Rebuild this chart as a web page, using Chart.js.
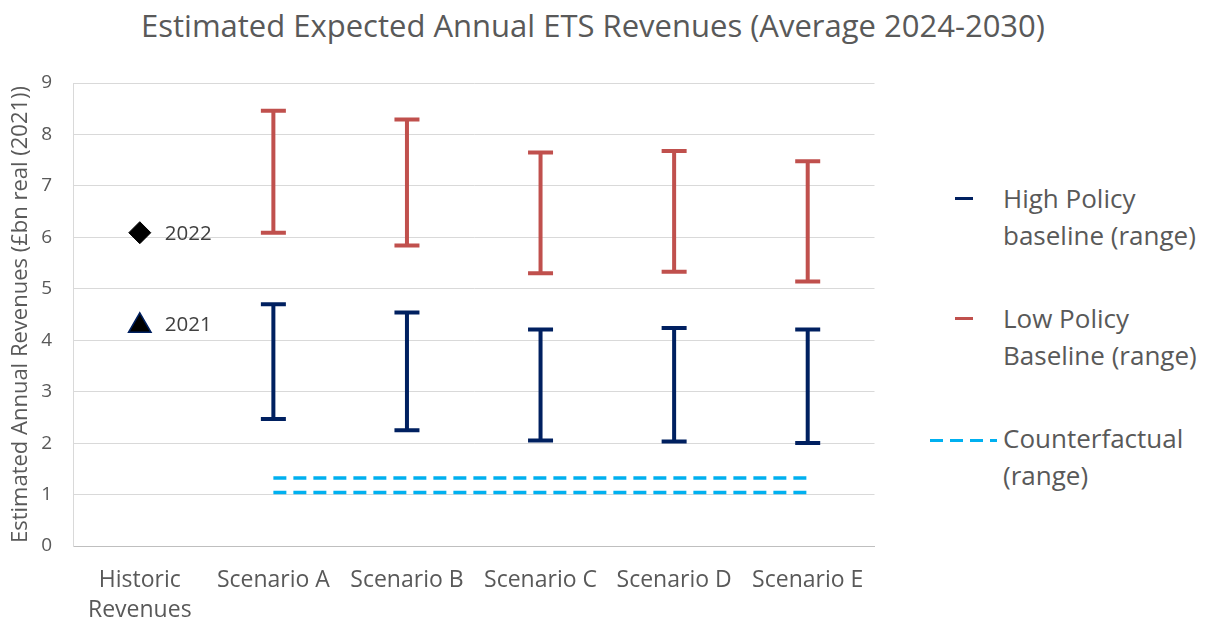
<!DOCTYPE html>
<html>
<head>
<meta charset="utf-8">
<title>Estimated Expected Annual ETS Revenues</title>
<script src="https://cdn.jsdelivr.net/npm/chart.js@4/dist/chart.umd.min.js"></script>
<style>
  body { margin: 0; background: #fff; font-family: 'Open Sans', sans-serif; }
  #wrap { position: relative; width: 1208px; height: 623px; background: #fff; overflow: hidden; }
  #title { position: absolute; left: 0; top: 10px; width: 1186px; text-align: center;
           font-size: 31px; line-height: 30px; color: #595959; white-space: nowrap; }
  #plot { position: absolute; left: 0; top: 0; width: 889px; height: 623px; }
  .leg-text { position: absolute; left: 1003px; font-size: 26px; line-height: 37px; color: #595959; white-space: nowrap; }
  .leg-mark { position: absolute; height: 3px; }
</style>
</head>
<body>
<div id="wrap">
  <div id="title">Estimated Expected Annual ETS Revenues (Average 2024-2030)</div>
  <div id="plot"><canvas id="myChart"></canvas></div>

  <div class="leg-mark" style="left:955px; top:197px; width:18px; background:#002060;"></div>
  <div class="leg-text" style="top:180px;">High Policy<br>baseline (range)</div>

  <div class="leg-mark" style="left:955px; top:317px; width:18px; background:#C0504D;"></div>
  <div class="leg-text" style="top:300px;">Low Policy<br>Baseline (range)</div>

  <div class="leg-mark" style="left:930px; top:439px; width:67px;
       background:repeating-linear-gradient(to right, #00B0F0 0 13px, transparent 13px 20px);"></div>
  <div class="leg-text" style="top:420px;">Counterfactual<br>(range)</div>
</div>

<script>
// Chart data
let categories = [['Historic', 'Revenues'], 'Scenario A', 'Scenario B', 'Scenario C', 'Scenario D', 'Scenario E'];

let highPolicyLow  = [null, 2.47, 2.25, 2.05, 2.03, 2.00];
let highPolicyHigh = [null, 4.70, 4.54, 4.21, 4.24, 4.21];

let lowPolicyLow  = [null, 6.09, 5.84, 5.30, 5.33, 5.14];
let lowPolicyHigh = [null, 8.46, 8.29, 7.65, 7.68, 7.48];

let counterfactualLow  = [null, 1.04, 1.04, 1.04, 1.04, 1.04];
let counterfactualHigh = [null, 1.32, 1.32, 1.32, 1.32, 1.32];

let historic2021 = [4.28, null, null, null, null, null];
let historic2022 = [6.09, null, null, null, null, null];

let yTicks = [0, 1, 2, 3, 4, 5, 6, 7, 8, 9];

// pair low/high into floating bar values
function toRange(lo, hi) {
    return lo.map(function (v, i) {
        return v === null ? null : [v, hi[i]];
    });
}

// Draws I-beam error bars for datasets flagged with errorBar
const errorBars = {
    id: 'errorBars',
    afterDatasetsDraw(chart) {
        const ctx = chart.ctx;
        const x = chart.scales.x;
        const y = chart.scales.y;
        chart.data.datasets.forEach(function (ds, di) {
            if (!ds.errorBar || !chart.isDatasetVisible(di)) return;
            ctx.save();
            ctx.strokeStyle = ds.barColor;
            ctx.lineWidth = 4;
            ds.data.forEach(function (v, i) {
                if (!v) return;
                const px = x.getPixelForValue(i);
                const top = y.getPixelForValue(v[1]);
                const bot = y.getPixelForValue(v[0]);
                ctx.beginPath();
                ctx.moveTo(px, top);
                ctx.lineTo(px, bot);
                ctx.moveTo(px - 12.5, top);
                ctx.lineTo(px + 12.5, top);
                ctx.moveTo(px - 12.5, bot);
                ctx.lineTo(px + 12.5, bot);
                ctx.stroke();
            });
            ctx.restore();
        });
    }
};

// Year labels next to the historic points
const pointLabels = {
    id: 'pointLabels',
    afterDatasetsDraw(chart) {
        const ctx = chart.ctx;
        chart.data.datasets.forEach(function (ds, di) {
            if (!ds.pointLabel) return;
            const meta = chart.getDatasetMeta(di);
            meta.data.forEach(function (pt, i) {
                if (ds.data[i] === null) return;
                ctx.save();
                ctx.fillStyle = '#404040';
                ctx.font = '20.5px "Open Sans"';
                ctx.textBaseline = 'middle';
                ctx.fillText(ds.pointLabel, pt.x + 25, pt.y + ds.labelShift);
                ctx.restore();
            });
        });
    }
};

function createChart() {
    Chart.defaults.font.family = "'Open Sans', sans-serif";
    Chart.defaults.color = '#595959';

    var ctx = document.getElementById('myChart').getContext('2d');
    var myChart = new Chart(ctx, {
        type: 'bar',
        data: {
            labels: categories,
            datasets: [
                {
                    type: 'line',
                    label: '2022',
                    pointLabel: '2022',
                    labelShift: 1,
                    data: historic2022,
                    showLine: false,
                    pointStyle: 'rectRot',
                    pointRadius: 11,
                    pointBackgroundColor: '#000000',
                    pointBorderColor: '#000000',
                    pointBorderWidth: 1
                },
                {
                    type: 'line',
                    label: '2021',
                    pointLabel: '2021',
                    labelShift: -1,
                    data: historic2021,
                    showLine: false,
                    pointStyle: 'triangle',
                    pointRadius: 13,
                    pointBackgroundColor: '#000000',
                    pointBorderColor: '#002060',
                    pointBorderWidth: 1.5
                },
                {
                    type: 'line',
                    label: 'Counterfactual (range) high',
                    data: counterfactualHigh,
                    borderColor: '#00B0F0',
                    borderWidth: 3.5,
                    borderDash: [13, 7],
                    pointRadius: 0,
                    fill: false
                },
                {
                    type: 'line',
                    label: 'Counterfactual (range) low',
                    data: counterfactualLow,
                    borderColor: '#00B0F0',
                    borderWidth: 3.5,
                    borderDash: [13, 7],
                    pointRadius: 0,
                    fill: false
                },
                {
                    label: 'High Policy baseline (range)',
                    data: toRange(highPolicyLow, highPolicyHigh),
                    errorBar: true,
                    barColor: '#002060',
                    backgroundColor: 'rgba(0,0,0,0)',
                    grouped: false,
                    barPercentage: 0.2
                },
                {
                    label: 'Low Policy Baseline (range)',
                    data: toRange(lowPolicyLow, lowPolicyHigh),
                    errorBar: true,
                    barColor: '#C0504D',
                    backgroundColor: 'rgba(0,0,0,0)',
                    grouped: false,
                    barPercentage: 0.2
                }
            ]
        },
        options: {
            responsive: true,
            maintainAspectRatio: false,
            animation: false,
            layout: { padding: { top: 83, right: 1, left: 0, bottom: 0 } },
            plugins: {
                legend: { display: false },
                title: { display: false },
                tooltip: { enabled: true }
            },
            scales: {
                x: {
                    offset: true,
                    grid: { display: false },
                    border: { display: true, color: '#BFBFBF', width: 1 },
                    ticks: {
                        color: '#595959',
                        font: { size: 23, lineHeight: 1.3 },
                        padding: 12,
                        maxRotation: 0,
                        autoSkip: false
                    },
                    afterFit: function (s) { s.height = 77; }
                },
                y: {
                    min: 0,
                    max: 9,
                    afterBuildTicks: function (s) {
                        s.ticks = yTicks.map(function (v) { return { value: v }; });
                    },
                    grid: { color: '#D9D9D9', lineWidth: 1, drawTicks: false },
                    border: { display: true, color: '#D9D9D9', width: 1 },
                    ticks: { color: '#595959', font: { size: 19 }, padding: 21 },
                    title: {
                        display: true,
                        text: 'Estimated Annual Revenues (£bn real (2021))',
                        color: '#595959',
                        font: { size: 22 },
                        padding: { top: 8, bottom: 0 }
                    },
                    afterFit: function (s) { s.width = 73; }
                }
            }
        },
        plugins: [errorBars, pointLabels]
    });
}

// Call the function to create the chart
createChart();
</script>
</body>
</html>
